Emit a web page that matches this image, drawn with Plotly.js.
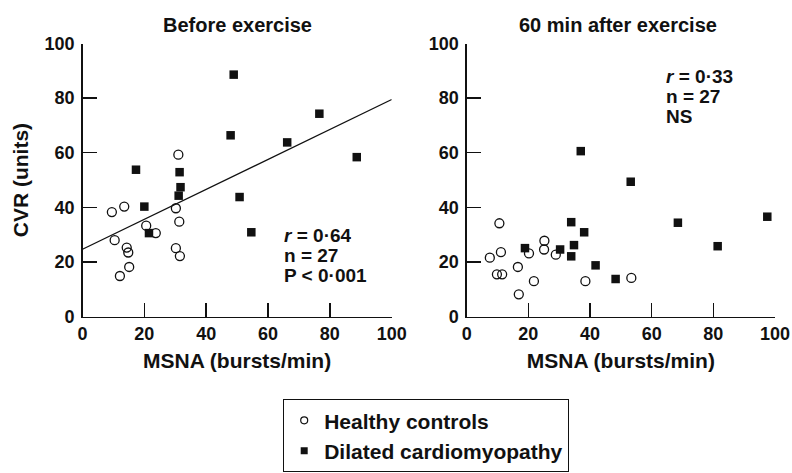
<!DOCTYPE html>
<html>
<head>
<meta charset="utf-8">
<script src="https://cdn.plot.ly/plotly-3.0.1.min.js"></script>
<style>html,body{margin:0;padding:0;background:#fff;}#chart{width:792px;height:473px;}</style>
</head>
<body>
<div id="chart"></div>
<script>
// ---- Data ----
const panelTitles = ["Before exercise", "60 min after exercise"];
const seriesNames = ["Healthy controls", "Dilated cardiomyopathy"];
const tickVals = [0, 20, 40, 60, 80, 100];

// Before exercise
const beforeControlsX = [31.0, 13.5, 9.5, 30.2, 31.3, 20.6, 23.7, 10.4, 14.3, 14.8, 30.2, 31.5, 15.1, 12.1];
const beforeControlsY = [59.3, 40.3, 38.3, 39.7, 34.8, 33.3, 30.6, 28.0, 25.3, 23.5, 25.1, 22.2, 18.2, 14.9];
const beforeDcmX = [48.9, 47.9, 76.6, 66.2, 88.7, 17.3, 31.4, 31.7, 31.1, 50.8, 20.0, 21.5, 54.6];
const beforeDcmY = [88.6, 66.4, 74.3, 63.8, 58.4, 53.8, 52.9, 47.4, 44.3, 43.8, 40.3, 30.6, 30.9];

// 60 min after exercise
const afterControlsX = [10.6, 25.2, 25.1, 11.1, 20.2, 28.9, 7.5, 16.6, 9.8, 11.5, 21.8, 38.5, 53.4, 16.9];
const afterControlsY = [34.2, 27.8, 24.6, 23.6, 23.2, 22.7, 21.6, 18.2, 15.5, 15.5, 13.0, 13.0, 14.2, 8.2];
const afterDcmX = [37.0, 53.2, 97.5, 68.5, 33.9, 38.1, 34.8, 81.4, 18.9, 30.3, 33.9, 41.8, 48.3];
const afterDcmY = [60.6, 49.4, 36.6, 34.4, 34.6, 30.9, 26.2, 25.8, 25.1, 24.6, 22.1, 18.8, 13.8];

// Regression line (before exercise)
const fitIntercept = 24.7;
const fitSlope = 0.548;
const fitXRange = [0, 100];

const statsBefore = ["<i>r</i> = 0·64", "n = 27", "P &lt; 0·001"];
const statsAfter = ["<i>r</i> = 0·33", "n = 27", "NS"];

// ---- Styling ----
const FONT = "Liberation Sans, Arial, Helvetica, sans-serif";
const INK = "#111111";
const circleMarker = {symbol: "circle-open", size: 9, color: INK, line: {width: 1.3, color: INK}};
const squareMarker = {symbol: "square", size: 8.5, color: INK, line: {width: 0}};

const traces = [
  {x: beforeControlsX, y: beforeControlsY, xaxis: "x", yaxis: "y", mode: "markers", type: "scatter",
   marker: circleMarker, showlegend: false, cliponaxis: false, hoverinfo: "skip"},
  {x: beforeDcmX, y: beforeDcmY, xaxis: "x", yaxis: "y", mode: "markers", type: "scatter",
   marker: squareMarker, showlegend: false, cliponaxis: false, hoverinfo: "skip"},
  {x: fitXRange, y: fitXRange.map(v => fitIntercept + fitSlope * v), xaxis: "x", yaxis: "y",
   mode: "lines", type: "scatter", line: {color: INK, width: 1.3}, showlegend: false, hoverinfo: "skip"},
  {x: afterControlsX, y: afterControlsY, xaxis: "x2", yaxis: "y2", mode: "markers", type: "scatter",
   marker: circleMarker, showlegend: false, cliponaxis: false, hoverinfo: "skip"},
  {x: afterDcmX, y: afterDcmY, xaxis: "x2", yaxis: "y2", mode: "markers", type: "scatter",
   marker: squareMarker, showlegend: false, cliponaxis: false, hoverinfo: "skip"},
  // legend entries
  {x: [null], y: [null], xaxis: "x", yaxis: "y", mode: "markers", type: "scatter", name: seriesNames[0],
   marker: {symbol: "circle-open", size: 7, color: INK, line: {width: 1.2, color: INK}}},
  {x: [null], y: [null], xaxis: "x", yaxis: "y", mode: "markers", type: "scatter", name: seriesNames[1],
   marker: {symbol: "square", size: 7, color: INK}}
];

const W = 792, H = 473;
const px = v => v / W;
const py = v => (H - v) / H;

function axisBase() {
  return {
    range: [0, 100], tickvals: tickVals, ticks: "inside", ticklen: 14, tickwidth: 1.4, tickcolor: INK,
    showline: true, linecolor: INK, linewidth: 1.4, showgrid: false, zeroline: false, mirror: false,
    fixedrange: true, tickfont: {family: FONT, size: 18, color: INK, weight: "bold"}
  };
}

const yDomain = [py(316.7), py(43.5)];
const statFont = {family: FONT, size: 19, color: INK, weight: "bold"};

function statLines(lines, xref, yref, x, ys) {
  return lines.map((t, i) => ({text: t, xref: xref, yref: yref, x: x, y: ys[i], height: 18,
    xanchor: "left", yanchor: "middle", valign: "middle", align: "left", showarrow: false, font: statFont}));
}

const layout = {
  width: W, height: H,
  margin: {l: 0, r: 0, t: 0, b: 0},
  paper_bgcolor: "#ffffff", plot_bgcolor: "#ffffff",
  font: {family: FONT, color: INK},
  showlegend: true,
  legend: {
    x: px(283), y: py(399), xanchor: "left", yanchor: "top",
    bordercolor: INK, borderwidth: 1.2, bgcolor: "#ffffff",
    font: {family: FONT, size: 21, color: INK, weight: "bold"},
    tracegroupgap: 0
  },
  xaxis: Object.assign(axisBase(), {domain: [px(82.5), px(391.7)], anchor: "y",
    title: {text: "MSNA (bursts/min)", font: {family: FONT, size: 21, color: INK, weight: "bold"}, standoff: 10}}),
  yaxis: Object.assign(axisBase(), {domain: yDomain, anchor: "x", ticklabelstandoff: 3,
    title: {text: "CVR (units)", font: {family: FONT, size: 21, color: INK, weight: "bold"}, standoff: 10}}),
  xaxis2: Object.assign(axisBase(), {domain: [px(466.7), px(775)], anchor: "y2",
    title: {text: "MSNA (bursts/min)", font: {family: FONT, size: 21, color: INK, weight: "bold"}, standoff: 10}}),
  yaxis2: Object.assign(axisBase(), {domain: yDomain, anchor: "x2", ticklabelstandoff: 3}),
  annotations: [
    {text: panelTitles[0], xref: "paper", yref: "paper", x: px(237.5), y: py(25), xanchor: "center", yanchor: "middle",
     showarrow: false, font: {family: FONT, size: 20, color: INK, weight: "bold"}},
    {text: panelTitles[1], xref: "paper", yref: "paper", x: px(618), y: py(25), xanchor: "center", yanchor: "middle",
     showarrow: false, font: {family: FONT, size: 20, color: INK, weight: "bold"}}
  ].concat(
    statLines(statsBefore, "x", "y", 64.4, [30.0, 22.7, 15.4]),
    statLines(statsAfter, "x2", "y2", 64.0, [88.1, 80.8, 73.5])
  )
};

Plotly.newPlot("chart", traces, layout, {staticPlot: true, displayModeBar: false});
</script>
</body>
</html>
